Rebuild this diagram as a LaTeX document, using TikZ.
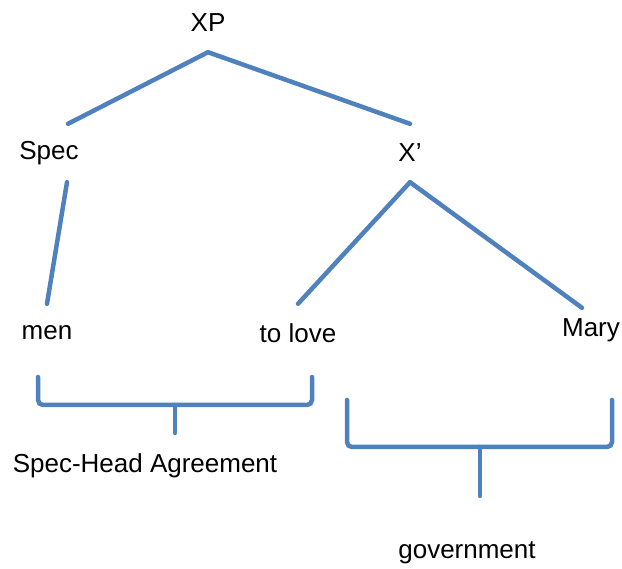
\documentclass[tikz,border=0pt]{standalone}
\usepackage{fontspec}
\setmainfont{Liberation Sans}
\usepackage{xcolor}
\definecolor{Col1}{RGB}{79,129,189}
\usepackage{tikz}
\tikzstyle{Node}=[inner sep=0pt,minimum height=58pt,
font=\fontsize{26}{30}\selectfont]
\tikzstyle{Label}=[inner sep=0pt,font=\fontsize{26}{30}\selectfont]
\tikzstyle{Edge}=[draw=Col1,line width=4.5pt,line cap=round]
\tikzstyle{Brace}=[draw=Col1,line width=4.5pt,line cap=round,
rounded corners=5pt]

\begin{document}
\begin{tikzpicture}[x=1pt,y=-1pt]
            \useasboundingbox(0,0)rectangle(622,569);
            \node[Node](xp)at(208,23){XP};
            \node[Node](spec)at(49,153){Spec};
            \node[Node](xbar)at(410,153){X'};
            \node[Node](men)at(47,333){men};
            \node[Node](tolove)at(298,333){to love};
            \node[Node](mary)at(591,330){Mary};
            \draw[Edge]([xshift=19pt]spec.north)--(xp.south);
            \draw[Edge](xp.south)--(xbar.north);
            \draw[Edge]([xshift=18pt]spec.south)--(men.north);
            \draw[Edge](tolove.north)--(xbar.south);
            \draw[Edge](xbar.south)--([xshift=-9pt,yshift=-7pt]mary.north);
            %
            \coordinate(b1l)at(38,377);
            \coordinate(b1r)at(312,377);
            \coordinate(b1m)at(175,405);
            \coordinate(b1t)at(175,433);
            \node[Label](agree)at(145,466){Spec-Head Agreement};
            \draw[Brace](b1l)|-(b1m)-|(b1r);
            \draw[Edge](b1m)--(b1t);
            %
            \coordinate(b2l)at(347,400);
            \coordinate(b2r)at(612,400);
            \coordinate(b2m)at(480,447);
            \coordinate(b2t)at(480,496);
            \node[Label](gov)at(467,553){government};
            \draw[Brace](b2l)|-(b2m)-|(b2r);
            \draw[Edge](b2m)--(b2t);
        \end{tikzpicture}
\end{document}
